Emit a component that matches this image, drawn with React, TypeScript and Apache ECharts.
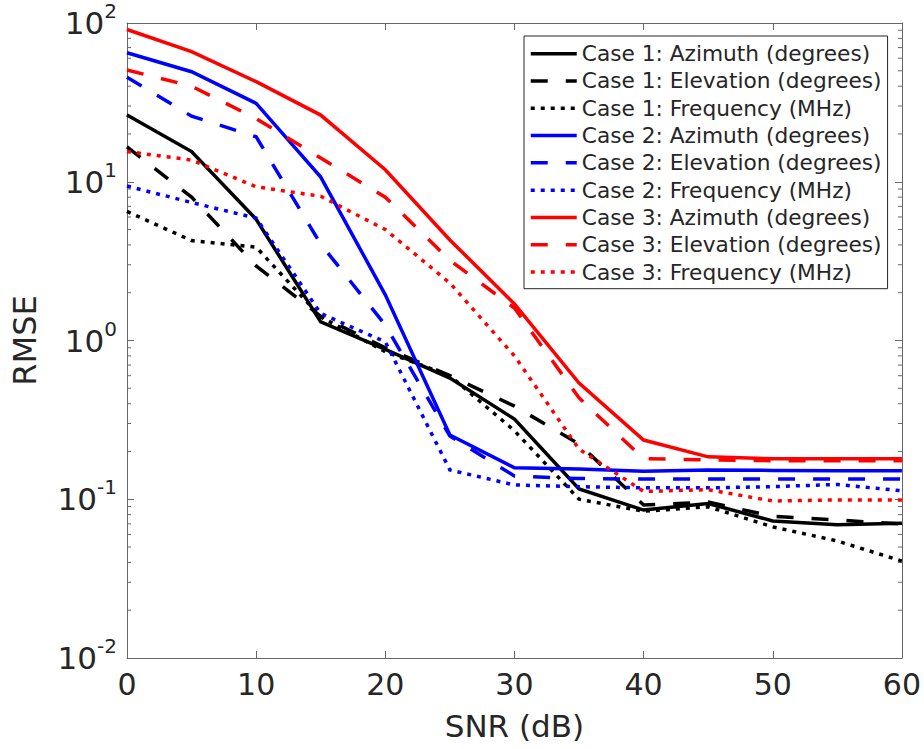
import React, { useEffect, useRef } from 'react';
import * as echarts from 'echarts';

const snr = [0, 5, 10, 15, 20, 25, 30, 35, 40, 45, 50, 55, 60];
const xTicks = [0, 10, 20, 30, 40, 50, 60];
const yDecades = [0.01, 0.1, 1, 10, 100];
const minorMultipliers = [2, 3, 4, 5, 6, 7, 8, 9];

const case1Azimuth = [26.3, 15.5, 5.8, 1.31, 0.88, 0.58, 0.32, 0.116, 0.0855, 0.094, 0.073, 0.069, 0.0707];
const case1Elevation = [16.6, 8.0, 2.95, 1.42, 0.9, 0.6, 0.386, 0.223, 0.092, 0.096, 0.078, 0.074, 0.0698];
const case1Frequency = [6.5, 4.26, 3.87, 1.41, 0.85, 0.6, 0.27, 0.1, 0.084, 0.0897, 0.067, 0.0546, 0.0408];
const case2Azimuth = [65, 49.3, 31.2, 10.7, 1.94, 0.254, 0.158, 0.155, 0.15, 0.153, 0.152, 0.151, 0.151];
const case2Elevation = [45.5, 25.9, 19.2, 4.05, 1.25, 0.25, 0.14, 0.135, 0.134, 0.134, 0.134, 0.134, 0.134];
const case2Frequency = [9.4, 7.4, 5.9, 1.48, 0.98, 0.153, 0.123, 0.12, 0.118, 0.118, 0.12, 0.124, 0.113];
const case3Azimuth = [91, 66, 42.7, 26.3, 11.9, 4.3, 1.7, 0.54, 0.236, 0.185, 0.18, 0.18, 0.18];
const case3Elevation = [50.6, 40, 25, 14.1, 8.0, 3.2, 1.6, 0.435, 0.18, 0.177, 0.175, 0.175, 0.175];
const case3Frequency = [15.5, 13.7, 9.3, 8.1, 5.0, 2.3, 0.8, 0.207, 0.112, 0.115, 0.0975, 0.099, 0.099];

const seriesNames = [
  'Case 1: Azimuth (degrees)',
  'Case 1: Elevation (degrees)',
  'Case 1: Frequency (MHz)',
  'Case 2: Azimuth (degrees)',
  'Case 2: Elevation (degrees)',
  'Case 2: Frequency (MHz)',
  'Case 3: Azimuth (degrees)',
  'Case 3: Elevation (degrees)',
  'Case 3: Frequency (MHz)',
];
const seriesValues = [
  case1Azimuth, case1Elevation, case1Frequency,
  case2Azimuth, case2Elevation, case2Frequency,
  case3Azimuth, case3Elevation, case3Frequency,
];
const seriesColors = ['#000000', '#000000', '#000000', '#0000ff', '#0000ff', '#0000ff', '#ff0000', '#ff0000', '#ff0000'];
const DASH = [17, 18];
const DOT = [4, 6];
const seriesDash: any[] = ['solid', DASH, DOT, 'solid', DASH, DOT, 'solid', DASH, DOT];

const FONT = 'DejaVu Sans';
const AXIS_COLOR = '#666666';
const TEXT_COLOR = '#262626';

export default function App() {
  const ref = useRef<HTMLDivElement>(null);

  useEffect(() => {
    if (!ref.current) return;
    const chart = echarts.init(ref.current, undefined, { renderer: 'svg' });

    const lineSeries = seriesNames.map((name, i) => ({
      name,
      type: 'line',
      data: snr.map((x, j) => [x, seriesValues[i][j]]),
      symbol: 'none',
      showSymbol: false,
      xAxisIndex: 0,
      yAxisIndex: 0,
      lineStyle: { color: seriesColors[i], width: 3.5, type: seriesDash[i], cap: 'butt', join: 'miter' },
      itemStyle: { color: seriesColors[i] },
      z: 2 + i * 0.01,
    }));

    const minorTickSeries = {
      type: 'custom',
      silent: true,
      coordinateSystem: 'cartesian2d',
      xAxisIndex: 0,
      yAxisIndex: 0,
      data: [[xTicks[0], 1]],
      renderItem: (_params: any, api: any) => {
        const children: any[] = [];
        const xl = api.coord([xTicks[0], 1])[0];
        const xr = api.coord([xTicks[xTicks.length - 1], 1])[0];
        for (let d = 0; d < yDecades.length - 1; d++) {
          for (const m of minorMultipliers) {
            const y = api.coord([xTicks[0], m * yDecades[d]])[1];
            children.push({ type: 'line', shape: { x1: xl, y1: y, x2: xl + 4, y2: y }, style: { stroke: AXIS_COLOR, lineWidth: 1 } });
            children.push({ type: 'line', shape: { x1: xr - 4, y1: y, x2: xr, y2: y }, style: { stroke: AXIS_COLOR, lineWidth: 1 } });
          }
        }
        return { type: 'group', children };
      },
      z: 1,
    };

    const yLabelFormatter = (v: number) => {
      const e = Math.round(Math.log10(v));
      return `{a|10}{b|${e}}`;
    };

    const option: any = {
      animation: false,
      backgroundColor: '#ffffff',
      grid: { left: 127, right: 22, top: 23, bottom: 91, containLabel: false },
      legend: {
        data: seriesNames,
        orient: 'vertical',
        left: 524,
        top: 36,
        padding: [4, 6, 3, 5],
        itemWidth: 46,
        itemHeight: 14,
        itemGap: 0,
        borderColor: '#262626',
        borderWidth: 1,
        backgroundColor: '#ffffff',
        itemStyle: { opacity: 0, borderWidth: 0 },
        lineStyle: { width: 3.5 },
        textStyle: { fontSize: 21.7, color: TEXT_COLOR, fontFamily: FONT, lineHeight: 27.3 },
      },
      xAxis: [
        {
          type: 'value',
          position: 'bottom',
          min: xTicks[0],
          max: xTicks[xTicks.length - 1],
          interval: 10,
          axisLine: { show: true, onZero: false, lineStyle: { color: AXIS_COLOR, width: 1 } },
          axisTick: { show: true, inside: true, length: 7, lineStyle: { color: AXIS_COLOR } },
          axisLabel: { fontSize: 30, color: TEXT_COLOR, fontFamily: FONT, margin: 11 },
          splitLine: { show: false },
          name: 'SNR (dB)',
          nameLocation: 'middle',
          nameGap: 52,
          nameTextStyle: { fontSize: 31, color: TEXT_COLOR, fontFamily: FONT },
        },
        {
          type: 'value',
          position: 'top',
          min: xTicks[0],
          max: xTicks[xTicks.length - 1],
          interval: 10,
          axisLine: { show: true, onZero: false, lineStyle: { color: AXIS_COLOR, width: 1 } },
          axisTick: { show: true, inside: true, length: 7, lineStyle: { color: AXIS_COLOR } },
          axisLabel: { show: false },
          splitLine: { show: false },
        },
      ],
      yAxis: [
        {
          type: 'log',
          logBase: 10,
          position: 'left',
          min: yDecades[0],
          max: yDecades[yDecades.length - 1],
          axisLine: { show: true, onZero: false, lineStyle: { color: AXIS_COLOR, width: 1 } },
          axisTick: { show: true, inside: true, length: 7, lineStyle: { color: AXIS_COLOR } },
          axisLabel: {
            formatter: yLabelFormatter,
            margin: 10,
            rich: {
              a: { fontSize: 31, color: TEXT_COLOR, fontFamily: FONT, lineHeight: 44 },
              b: { fontSize: 20, color: TEXT_COLOR, fontFamily: FONT, lineHeight: 14, verticalAlign: 'top' },
            },
          },
          splitLine: { show: false },
          name: 'RMSE',
          nameLocation: 'middle',
          nameGap: 86,
          nameRotate: 90,
          nameTextStyle: { fontSize: 32, color: TEXT_COLOR, fontFamily: FONT },
        },
        {
          type: 'log',
          logBase: 10,
          position: 'right',
          min: yDecades[0],
          max: yDecades[yDecades.length - 1],
          axisLine: { show: true, onZero: false, lineStyle: { color: AXIS_COLOR, width: 1 } },
          axisTick: { show: true, inside: true, length: 7, lineStyle: { color: AXIS_COLOR } },
          axisLabel: { show: false },
          splitLine: { show: false },
        },
      ],
      series: [minorTickSeries, ...lineSeries],
    };

    chart.setOption(option);
    return () => chart.dispose();
  }, []);

  return <div ref={ref} style={{ width: 924, height: 749, position: 'absolute', left: 0, top: 0 }} />;
}
